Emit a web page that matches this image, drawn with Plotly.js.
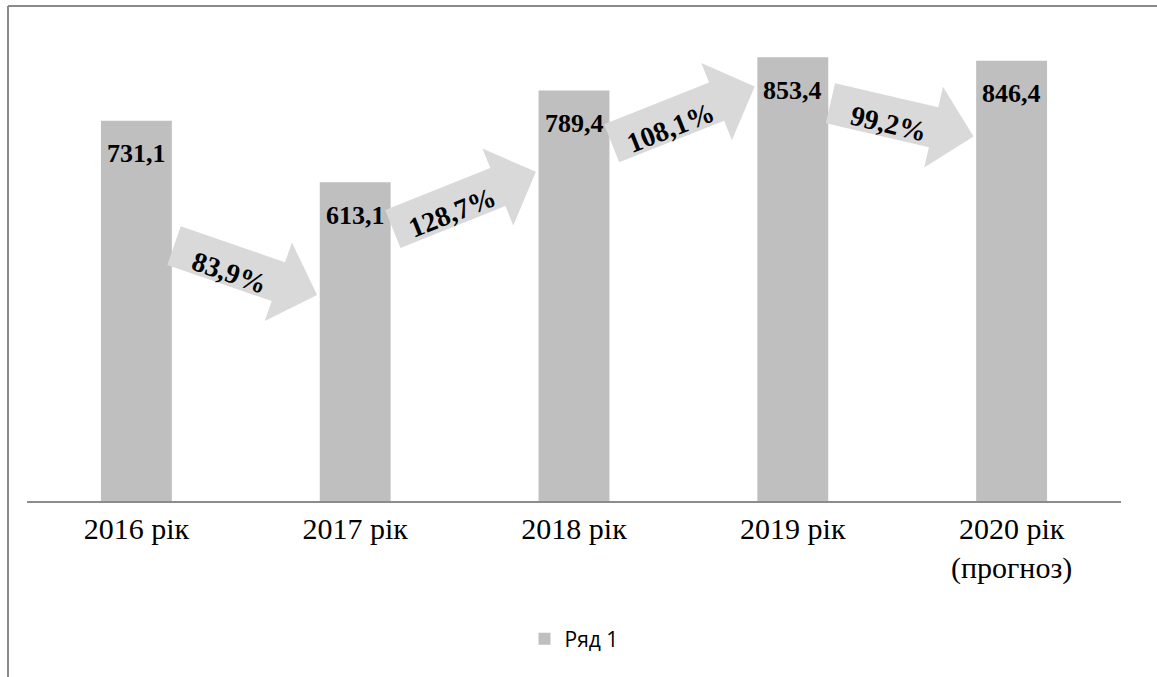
<!DOCTYPE html>
<html>
<head>
<meta charset="utf-8">
<script src="https://cdn.plot.ly/plotly-3.0.1.min.js"></script>
<style>html,body{margin:0;padding:0;background:#fff;}#chart{width:1157px;height:677px;}</style>
</head>
<body>
<div id="chart"></div>
<script>
// ---- data ----
const categories = ['2016 рік', '2017 рік', '2018 рік', '2019 рік', '2020 рік<br>(прогноз)'];
const values = [731.1, 613.1, 789.4, 853.4, 846.4];
const valueLabels = ['731,1', '613,1', '789,4', '853,4', '846,4'];
const growthLabels = ['83,9%', '128,7%', '108,1%', '99,2%'];
// decorative arrow heights (data units) at tail and tip
const arrowTailY = [491, 523, 688, 765];
const arrowTipY = [396, 633, 797, 701];
const seriesName = 'Ряд 1';

// ---- layout geometry ----
const W = 1157, H = 677;
const M = {l: 27, r: 36, t: 33, b: 176};
const PW = W - M.l - M.r, PH = H - M.t - M.b;
const YMAX = 900;
const N = categories.length;
const BW = 0.324; // bar width in category units

const xPx = xd => M.l + (xd + 0.5) * PW / N;
const yPx = yd => M.t + PH - yd * PH / YMAX;
const xData = px => (px - M.l) * N / PW - 0.5;
const yData = py => (M.t + PH - py) * YMAX / PH;

const shapes = [];
const annotations = [];

// value labels
values.forEach((v, i) => {
  annotations.push({
    x: i, y: v, xref: 'x', yref: 'y', text: valueLabels[i], showarrow: false,
    yanchor: 'middle', yshift: -33,
    font: {family: 'Liberation Serif', size: 26, color: '#000', weight: 'bold'}
  });
});

// block arrows
const headLen = 41, shaftHalf = 20.5, headHalf = 41.5;
for (let i = 0; i < N - 1; i++) {
  const tx = xPx(i + BW / 2 + 0.01), ty = yPx(arrowTailY[i]);
  const px = xPx(i + 1 - BW / 2 - 0.012), py = yPx(arrowTipY[i]);
  const L = Math.hypot(px - tx, py - ty);
  const dx = (px - tx) / L, dy = (py - ty) / L;
  const nx = -dy, ny = dx;
  const base = L - headLen;
  const pts = [
    [tx + nx * shaftHalf, ty + ny * shaftHalf],
    [tx + dx * base + nx * shaftHalf, ty + dy * base + ny * shaftHalf],
    [tx + dx * base + nx * headHalf, ty + dy * base + ny * headHalf],
    [px, py],
    [tx + dx * base - nx * headHalf, ty + dy * base - ny * headHalf],
    [tx + dx * base - nx * shaftHalf, ty + dy * base - ny * shaftHalf],
    [tx - nx * shaftHalf, ty - ny * shaftHalf]
  ];
  const path = pts.map((p, k) => (k ? 'L' : 'M') + xData(p[0]).toFixed(4) + ',' + yData(p[1]).toFixed(2)).join(' ') + ' Z';
  shapes.push({type: 'path', xref: 'x', yref: 'y', path: path, fillcolor: '#d9d9d9', line: {width: 0}, layer: 'above'});
  const cx = tx + dx * 61 + nx * 7, cy = ty + dy * 61 + ny * 7;
  annotations.push({
    x: xData(cx), y: yData(cy), xref: 'x', yref: 'y', text: growthLabels[i], showarrow: false,
    xanchor: 'center', yanchor: 'middle', textangle: Math.atan2(dy, dx) * 180 / Math.PI,
    font: {family: 'Liberation Serif', size: 28, color: '#000', weight: 'bold'}
  });
}

// outer frame (left and top border)
const fx = (8 - M.l) / PW, fy = (M.t + PH - 6) / PH;
shapes.push({type: 'line', xref: 'paper', yref: 'paper', x0: fx, x1: fx, y0: fy, y1: (M.t + PH - H - 5) / PH, line: {color: '#8a8a8a', width: 2}});
shapes.push({type: 'line', xref: 'paper', yref: 'paper', x0: fx, x1: (W + 5 - M.l) / PW, y0: fy, y1: fy, line: {color: '#8a8a8a', width: 2}});

const trace = {
  type: 'bar', x: categories, y: values, name: seriesName,
  marker: {color: '#bfbfbf'}, showlegend: true, hoverinfo: 'skip'
};

const layout = {
  width: W, height: H, margin: M,
  paper_bgcolor: '#fff', plot_bgcolor: '#fff',
  bargap: 1 - BW,
  showlegend: true,
  legend: {orientation: 'h', x: 0.5, xanchor: 'center', y: (M.t + PH - 639) / PH, yanchor: 'middle',
    font: {family: 'Open Sans', size: 21, color: '#000'}},
  xaxis: {type: 'category', showline: true, linecolor: '#8c8c8c', linewidth: 2, ticks: '',
    showgrid: false, zeroline: false,
    tickfont: {family: 'Liberation Serif', size: 30, color: '#000'}},
  yaxis: {range: [0, YMAX], visible: false, showgrid: false, zeroline: false},
  shapes: shapes, annotations: annotations
};

Plotly.newPlot('chart', [trace], layout, {staticPlot: true, displayModeBar: false});
</script>
</body>
</html>
